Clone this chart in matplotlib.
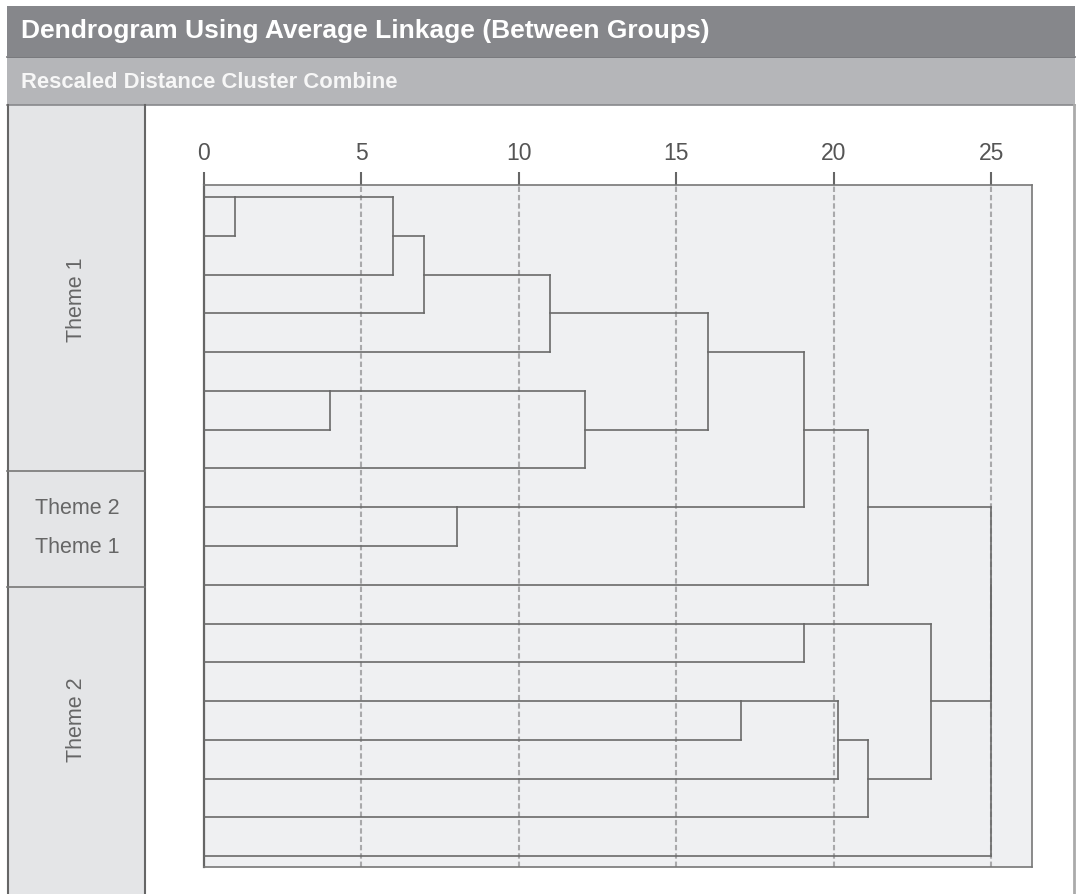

# Dendrogram (average linkage) redrawn in the SPSS style

import matplotlib
matplotlib.use('Agg')
import matplotlib.pyplot as plt
from matplotlib.patches import Rectangle

plt.rcParams['font.family'] = ['Liberation Sans', 'DejaVu Sans']

# chart data
title = 'Dendrogram Using Average Linkage (Between Groups)'
subtitle = 'Rescaled Distance Cluster Combine'
n_leaves = 18
# merges: cluster ids 0..17 are leaves (top to bottom), new clusters get 18, 19, ...
merge_a = [0, 18, 19, 20, 5, 22, 21, 8, 24, 26, 11, 13, 29, 30, 28, 27, 33]
merge_b = [1, 2, 3, 4, 6, 7, 23, 9, 25, 10, 12, 14, 15, 16, 31, 32, 17]
merge_dist = [1, 6, 7, 11, 4, 12.1, 16, 8.05, 19.05, 21.1, 19.05, 17.05, 20.15, 21.1, 23.1, 25, 25]
x_ticks = [0, 5, 10, 15, 20, 25]
# group bands on the left
group_labels = ['Theme 1', 'Theme 2\n\nTheme 1', 'Theme 2']
group_rotation = [90, 0, 90]

W, H = 1076, 894
fig = plt.figure(figsize=(W / 100, H / 100), dpi=100)

# background frame in pixel coords
bg = fig.add_axes([0, 0, 1, 1])
bg.set_xlim(0, W)
bg.set_ylim(H, 0)
bg.axis('off')
bg.add_patch(Rectangle((7, 6), 1068, 50, facecolor='#86878b', edgecolor='none'))
bg.add_patch(Rectangle((7, 57), 1068, 48, facecolor='#b5b6b9', edgecolor='none'))
bg.plot([7, 1075], [56.5, 56.5], color='#6e6f73', lw=1.2)
bg.plot([7, 1075], [105, 105], color='#88898c', lw=1.2)
bg.text(21, 31, title, color='white', fontsize=19, fontweight='bold', va='center', ha='left')
bg.text(21, 82, subtitle, color='#f7f7f7', fontsize=15.8, fontweight='bold', va='center', ha='left')

# left group column
bg.add_patch(Rectangle((7, 105), 138, H - 105, facecolor='#e4e5e7', edgecolor='none'))
bg.plot([7.5, 7.5], [105, H], color='#666666', lw=1.5)
bg.plot([145, 145], [105, H], color='#666666', lw=1.5)
bg.plot([1074, 1074], [105, H], color='#aaaaaa', lw=2)
band_edges = [105, 471, 587, H]
for i in range(1, len(band_edges) - 1):
    bg.plot([7, 145], [band_edges[i], band_edges[i]], color='#777777', lw=1.2)
band_centers = [300, 528, 720]
for lab, rot, yc in zip(group_labels, group_rotation, band_centers):
    bg.text(77, yc, lab, color='#666666', fontsize=15.5, rotation=rot,
            ha='center', va='center', linespacing=0.92)

# dendrogram axes
ax = fig.add_axes([204 / W, (H - 867) / H, (1032 - 204) / W, (867 - 185) / H])
ax.set_zorder(2)
ax.set_facecolor('#eff0f2')
ax.set_xlim(0, 26.3)
ax.set_ylim(17.28, -0.31)
for s in ax.spines.values():
    s.set_color('#777777')
    s.set_linewidth(1.2)
ax.spines['left'].set_color('#666666')
ax.spines['left'].set_linewidth(1.6)

for t in x_ticks[1:]:
    ax.axvline(t, color='#a9a9ab', lw=1.5, dashes=(2.6, 1.4), zorder=1)

line_kw = dict(color='#6a6a6a', lw=1.2, solid_capstyle='projecting', zorder=3)
pos = list(range(n_leaves))
height = [0.0] * n_leaves
for a, b, d in zip(merge_a, merge_b, merge_dist):
    ax.plot([height[a], d], [pos[a], pos[a]], **line_kw)
    ax.plot([height[b], d], [pos[b], pos[b]], **line_kw)
    ax.plot([d, d], [pos[a], pos[b]], **line_kw)
    pos.append((pos[a] + pos[b]) // 2)
    height.append(d)

ax.xaxis.tick_top()
ax.set_xticks(x_ticks)
ax.set_xticklabels([str(t) for t in x_ticks])
ax.tick_params(axis='x', direction='out', length=9.5, width=1.5, color='#666666',
               labelsize=16.5, labelcolor='#555555', pad=5)
ax.set_yticks([])

fig.savefig('out.png', dpi=100)
